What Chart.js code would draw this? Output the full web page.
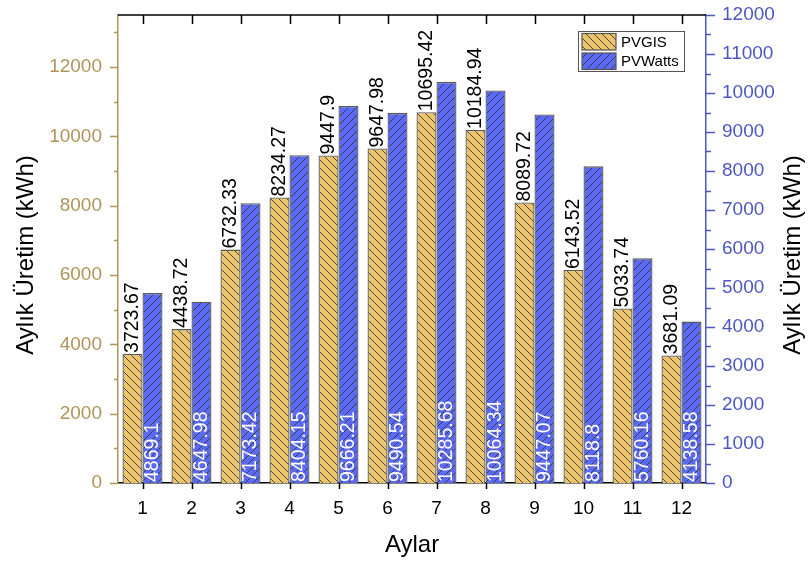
<!DOCTYPE html>
<html>
<head>
<meta charset="utf-8">
<script src="https://cdn.jsdelivr.net/npm/chart.js@4.4.1/dist/chart.umd.min.js"></script>
<style>
  html, body { margin: 0; padding: 0; background: #fff; }
  #wrap { width: 811px; height: 563px; }
</style>
</head>
<body>
<div id="wrap"><canvas id="chart" width="811" height="563"></canvas></div>
<script>
const months = ['1', '2', '3', '4', '5', '6', '7', '8', '9', '10', '11', '12'];
const pvgisValues = [3723.67, 4438.72, 6732.33, 8234.27, 9447.9, 9647.98, 10695.42, 10184.94, 8089.72, 6143.52, 5033.74, 3681.09];
const pvwattsValues = [4869.1, 4647.98, 7173.42, 8404.15, 9666.21, 9490.54, 10285.68, 10064.34, 9447.07, 8118.8, 5760.16, 4138.58];
const leftTickValues = [0, 2000, 4000, 6000, 8000, 10000, 12000];
const rightTickValues = [0, 1000, 2000, 3000, 4000, 5000, 6000, 7000, 8000, 9000, 10000, 11000, 12000];

const GOLD = '#b0955a';
const BLUE = '#4d57c3';
const FONT = "'Liberation Sans', Arial, sans-serif";

Chart.defaults.font.family = FONT;

// hatched fills: PVGIS "\" lines, PVWatts "/" lines
function makeHatch(fill, forward) {
    const size = 8;
    const c = document.createElement('canvas');
    c.width = size;
    c.height = size;
    const g = c.getContext('2d');
    g.fillStyle = fill;
    g.fillRect(0, 0, size, size);
    g.strokeStyle = '#3a3a3a';
    g.lineWidth = 0.9;
    g.beginPath();
    if (forward) {
        g.moveTo(-1, size + 1); g.lineTo(size + 1, -1);
        g.moveTo(-1, 1); g.lineTo(1, -1);
        g.moveTo(size - 1, size + 1); g.lineTo(size + 1, size - 1);
    } else {
        g.moveTo(-1, -1); g.lineTo(size + 1, size + 1);
        g.moveTo(size - 1, -1); g.lineTo(size + 1, 1);
        g.moveTo(-1, size - 1); g.lineTo(1, size + 1);
    }
    g.stroke();
    return g.createPattern(c, 'repeat');
}

const pvgisFill = makeHatch('#ecc46c', false);
const pvwattsFill = makeHatch('#5a69f6', true);

// no automatic label overhang padding, the frame is fixed
function fixPadding(s) {
    s.paddingTop = 0;
    s.paddingBottom = 0;
    s.paddingLeft = 0;
    s.paddingRight = 0;
}

const decorPlugin = {
    id: 'decor',
    afterDatasetsDraw(chart) {
        const ctx = chart.ctx;
        const area = chart.chartArea;
        ctx.save();
        ctx.font = '19.5px ' + FONT;
        ctx.textBaseline = 'middle';
        ctx.textAlign = 'left';
        // PVGIS values above bars
        chart.getDatasetMeta(0).data.forEach((bar, i) => {
            ctx.save();
            ctx.translate(bar.x, bar.y - 1);
            ctx.rotate(-Math.PI / 2);
            ctx.fillStyle = '#000';
            ctx.fillText(String(pvgisValues[i]), 0, 0);
            ctx.restore();
        });
        // PVWatts values inside bars, from the base
        chart.getDatasetMeta(1).data.forEach((bar, i) => {
            ctx.save();
            ctx.translate(bar.x, area.bottom - 1);
            ctx.rotate(-Math.PI / 2);
            ctx.fillStyle = '#fff';
            ctx.fillText(String(pvwattsValues[i]), 0, 0);
            ctx.restore();
        });
        ctx.restore();
    },
    afterDraw(chart) {
        const ctx = chart.ctx;
        const area = chart.chartArea;
        const x = chart.scales.x;
        const yL = chart.scales.y;
        const yR = chart.scales.y2;
        ctx.save();

        // top frame line with inward ticks
        ctx.strokeStyle = '#000';
        ctx.lineWidth = 1.5;
        ctx.beginPath();
        ctx.moveTo(area.left, area.top);
        ctx.lineTo(area.right, area.top);
        months.forEach((m, i) => {
            const px = Math.round(x.getPixelForValue(i)) + 0.5;
            ctx.moveTo(px, area.top);
            ctx.lineTo(px, area.top + 9);
            ctx.moveTo(px, area.bottom);
            ctx.lineTo(px, area.bottom + 6);
        });
        ctx.stroke();

        // left axis ticks
        ctx.strokeStyle = GOLD;
        ctx.beginPath();
        for (let v = 0; v <= 13000; v += 1000) {
            const py = Math.round(yL.getPixelForValue(v)) + 0.5;
            const len = v % 2000 === 0 ? 8 : 4;
            ctx.moveTo(area.left - len, py);
            ctx.lineTo(area.left, py);
        }
        ctx.stroke();

        // right axis ticks
        ctx.strokeStyle = BLUE;
        ctx.beginPath();
        for (let v = 0; v <= 12000; v += 500) {
            const py = Math.round(yR.getPixelForValue(v)) + 0.5;
            const len = v % 1000 === 0 ? 9 : 5;
            ctx.moveTo(area.right, py);
            ctx.lineTo(area.right + len, py);
        }
        ctx.stroke();

        // axis titles
        ctx.fillStyle = '#000';
        ctx.font = '24px ' + FONT;
        ctx.textAlign = 'center';
        ctx.textBaseline = 'alphabetic';
        ctx.fillText('Aylar', (area.left + area.right) / 2, 552);
        [[32.5, 'Aylık Üretim (kWh)'], [800, 'Aylık Üretim (kWh)']].forEach(([tx, text]) => {
            ctx.save();
            ctx.translate(tx, 255);
            ctx.rotate(-Math.PI / 2);
            ctx.fillText(text, 0, 0);
            ctx.restore();
        });

        // legend box
        const lx = area.right - 128;
        const ly = area.top + 16;
        ctx.fillStyle = '#fff';
        ctx.fillRect(lx, ly, 106, 40);
        ctx.strokeStyle = '#555';
        ctx.lineWidth = 1;
        ctx.strokeRect(lx + 0.5, ly + 0.5, 106, 40);
        ctx.font = '15px ' + FONT;
        ctx.textAlign = 'left';
        ctx.textBaseline = 'middle';
        chart.data.datasets.forEach((ds, i) => {
            const sy = ly + 2.5 + i * 19.5;
            ctx.fillStyle = ds.backgroundColor;
            ctx.fillRect(lx + 4, sy, 34, 16.5);
            ctx.strokeStyle = '#555';
            ctx.lineWidth = 1.2;
            ctx.strokeRect(lx + 4, sy, 34, 16.5);
            ctx.fillStyle = '#000';
            ctx.fillText(ds.label, lx + 43, sy + 9);
        });

        ctx.restore();
    }
};

new Chart(document.getElementById('chart'), {
    type: 'bar',
    data: {
        labels: months,
        datasets: [{
            label: 'PVGIS',
            data: pvgisValues,
            yAxisID: 'y',
            backgroundColor: pvgisFill,
            borderColor: '#5a5a5a',
            borderWidth: 1.3,
            categoryPercentage: 0.816,
            barPercentage: 1
        }, {
            label: 'PVWatts',
            data: pvwattsValues,
            yAxisID: 'y2',
            backgroundColor: pvwattsFill,
            borderColor: '#5a5a5a',
            borderWidth: 1.3,
            categoryPercentage: 0.816,
            barPercentage: 1
        }]
    },
    options: {
        responsive: false,
        animation: false,
        devicePixelRatio: 1,
        layout: { padding: { top: 15, left: 0, right: 0, bottom: 0 } },
        plugins: {
            legend: { display: false },
            tooltip: { enabled: false }
        },
        scales: {
            x: {
                grid: { display: false, drawTicks: false },
                border: { display: true, color: '#000', width: 1.5 },
                ticks: { color: '#000', font: { size: 19 }, padding: 14, maxRotation: 0 },
                afterFit: s => { s.height = 80; fixPadding(s); }
            },
            y: {
                position: 'left',
                min: 0,
                max: 13500,
                afterBuildTicks: s => { s.ticks = leftTickValues.map(v => ({ value: v })); },
                grid: { display: false, drawTicks: false },
                border: { display: true, color: GOLD, width: 1.5 },
                ticks: { color: GOLD, font: { size: 19 }, padding: 16, callback: v => String(v) },
                afterFit: s => { s.width = 118; fixPadding(s); }
            },
            y2: {
                position: 'right',
                min: 0,
                max: 12000,
                afterBuildTicks: s => { s.ticks = rightTickValues.map(v => ({ value: v })); },
                grid: { display: false, drawTicks: false },
                border: { display: true, color: BLUE, width: 1.5 },
                ticks: { color: BLUE, font: { size: 19 }, padding: 16, callback: v => String(v) },
                afterFit: s => { s.width = 105; fixPadding(s); }
            }
        }
    },
    plugins: [decorPlugin]
});
</script>
</body>
</html>
